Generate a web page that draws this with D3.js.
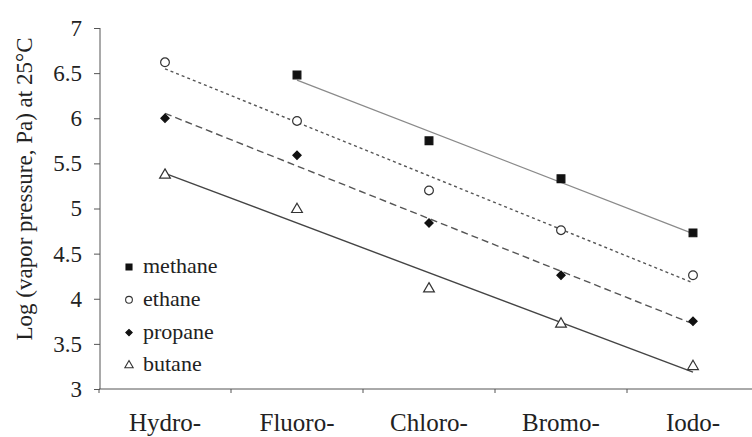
<!DOCTYPE html>
<html>
<head>
<meta charset="utf-8">
<script src="https://cdn.jsdelivr.net/npm/d3@7"></script>
<style>
    body { margin: 0; background: #fff; }
</style>
</head>
<body>
<div id="main"></div>
<script>
const ctx = {
    SVG_W: 752,
    SVG_H: 437,
    FONT: "Liberation Serif",
};

// categories along x
const prefixes = ["Hydro-", "Fluoro-", "Chloro-", "Bromo-", "Iodo-"];
const yTicks = [3, 3.5, 4, 4.5, 5, 5.5, 6, 6.5, 7];

// log vapor pressure values (null = no point)
const methane = [null, 6.48, 5.75, 5.33, 4.73];
const ethane = [6.62, 5.97, 5.20, 4.76, 4.26];
const propane = [6.00, 5.59, 4.84, 4.26, 3.75];
const butane = [5.37, 4.99, 4.11, 3.72, 3.25];

const seriesNames = ["methane", "ethane", "propane", "butane"];
const seriesValues = [methane, ethane, propane, butane];

// least squares fit over the points that exist
function fitLine(vals) {
    let pts = vals.map((v, i) => [i, v]).filter(p => p[1] !== null);
    let mx = d3.mean(pts, p => p[0]);
    let my = d3.mean(pts, p => p[1]);
    let num = d3.sum(pts, p => (p[0] - mx) * (p[1] - my));
    let den = d3.sum(pts, p => (p[0] - mx) * (p[0] - mx));
    let slope = num / den;
    let first = pts[0][0], last = pts[pts.length - 1][0];
    return [[first, my + slope * (first - mx)], [last, my + slope * (last - mx)]];
}

function createViz() {
    let svgEl = d3.select("#main").append("svg")
        .attr("width", ctx.SVG_W)
        .attr("height", ctx.SVG_H);

    let x = d3.scaleBand().domain(prefixes).range([99, 759]);
    let y = d3.scaleLinear().domain([3, 7]).range([389, 28]);
    let cx = i => x(prefixes[i]) + x.bandwidth() / 2;

    // y axis
    let yAxis = svgEl.append("g")
        .attr("transform", "translate(100,0)")
        .call(d3.axisLeft(y).tickValues(yTicks).tickSize(6).tickPadding(12)
            .tickFormat(d => d3.format("")(d)));
    yAxis.select(".domain").attr("stroke", "#555").attr("d", "M0," + y(7) + "V" + y(3));
    yAxis.selectAll(".tick line").attr("stroke", "#555");
    yAxis.selectAll("text")
        .style("font-family", ctx.FONT)
        .style("font-size", "23px")
        .attr("fill", "#222");

    // x axis: labels centred in bands, ticks on the band edges
    let xAxis = svgEl.append("g")
        .attr("transform", "translate(0,389)")
        .call(d3.axisBottom(x).tickSize(0).tickPadding(24));
    xAxis.select(".domain").attr("stroke", "#555").attr("d", "M99,0H760");
    xAxis.selectAll("text")
        .style("font-family", ctx.FONT)
        .style("font-size", "25px")
        .attr("fill", "#222");
    xAxis.selectAll("line.edge")
        .data(prefixes)
        .enter()
        .append("line")
        .attr("class", "edge")
        .attr("x1", d => x(d)).attr("x2", d => x(d))
        .attr("y1", 0).attr("y2", 4)
        .attr("stroke", "#555");

    // axis title
    svgEl.append("text")
        .attr("transform", "translate(32,189) rotate(-90)")
        .attr("text-anchor", "middle")
        .style("font-family", ctx.FONT)
        .style("font-size", "23px")
        .attr("fill", "#222")
        .text("Log (vapor pressure, Pa) at 25\u00B0C");

    // trend lines
    let lineStyles = [
        { stroke: "#8a8a8a", width: 1.2, dash: null },
        { stroke: "#555", width: 1.4, dash: "3,3" },
        { stroke: "#555", width: 1.4, dash: "7,4" },
        { stroke: "#444", width: 1.4, dash: null },
    ];
    let line = d3.line().x(p => cx(p[0])).y(p => y(p[1]));
    svgEl.append("g")
        .attr("class", "fits")
        .selectAll("path")
        .data(seriesValues)
        .enter()
        .append("path")
        .attr("d", d => line(fitLine(d)))
        .attr("fill", "none")
        .attr("stroke", (d, i) => lineStyles[i].stroke)
        .attr("stroke-width", (d, i) => lineStyles[i].width)
        .attr("stroke-dasharray", (d, i) => lineStyles[i].dash);

    // markers (diamond = square turned 45 degrees)
    let markers = [
        { type: d3.symbolSquare, size: 60, fill: "#111", stroke: "#111", rot: 0 },
        { type: d3.symbolCircle, size: 60, fill: "#fff", stroke: "#333", rot: 0 },
        { type: d3.symbolSquare, size: 34, fill: "#111", stroke: "#111", rot: 45 },
        { type: d3.symbolTriangle, size: 50, fill: "#fff", stroke: "#333", rot: 0 },
    ];
    seriesValues.forEach(function (vals, s) {
        let m = markers[s];
        svgEl.append("g")
            .attr("class", "pts-" + seriesNames[s])
            .selectAll("path")
            .data(vals.map((v, i) => [i, v]).filter(p => p[1] !== null))
            .enter()
            .append("path")
            .attr("transform", p => "translate(" + cx(p[0]) + "," + y(p[1]) + ") rotate(" + m.rot + ")")
            .attr("d", d3.symbol().type(m.type).size(m.size))
            .attr("fill", m.fill)
            .attr("stroke", m.stroke)
            .attr("stroke-width", 1.2);
    });

    // legend
    let legend = svgEl.append("g").attr("class", "legend");
    let item = legend.selectAll("g")
        .data(seriesNames)
        .enter()
        .append("g")
        .attr("transform", (d, i) => "translate(129," + (267 + i * 32.8) + ")");
    item.append("path")
        .attr("transform", (d, i) => "rotate(" + markers[i].rot + ")")
        .attr("d", (d, i) => d3.symbol().type(markers[i].type).size(markers[i].size * 0.6)())
        .attr("fill", (d, i) => markers[i].fill)
        .attr("stroke", (d, i) => markers[i].stroke)
        .attr("stroke-width", 1.1);
    item.append("text")
        .attr("x", 14)
        .attr("y", 6)
        .style("font-family", ctx.FONT)
        .style("font-size", "22px")
        .attr("fill", "#222")
        .text(d => d);
}

createViz();
</script>
</body>
</html>
